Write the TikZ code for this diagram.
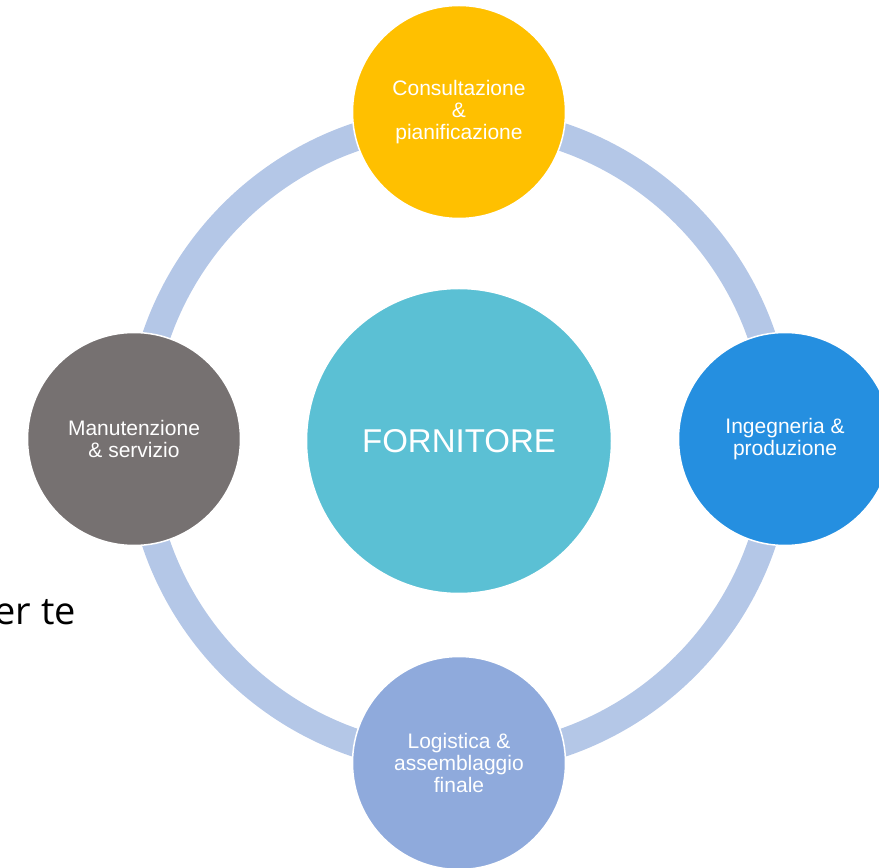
\documentclass[tikz,border=0pt]{standalone}
\usepackage{fontspec}
\setmainfont{Liberation Sans}
\newfontfamily\bodyfont{Open Sans}
\definecolor{ringc}{HTML}{B4C7E7}
\definecolor{cyellow}{HTML}{FFC000}
\definecolor{cblue}{HTML}{258FE0}
\definecolor{clblue}{HTML}{8FAADC}
\definecolor{cgray}{HTML}{767171}
\definecolor{ccyan}{HTML}{5BC0D4}
\tikzset{
  phase/.style={circle, draw=white, line width=1.5pt, minimum size=213pt, inner sep=0pt,
    text=white, align=center, font=\fontsize{21}{22}\selectfont},
  core/.style={circle, draw=white, line width=1.5pt, minimum size=305pt, inner sep=0pt,
    fill=ccyan, text=white, font=\fontsize{33}{36}\selectfont},
  ringline/.style={draw=ringc, line width=28pt}
}
\begin{document}
\begin{tikzpicture}[x=1pt,y=1pt]
\useasboundingbox (0,0) rectangle (879,868);
\coordinate (mid) at (459,428);
\draw[ringline] (mid) circle[radius=320];
\node[core] (fornitore) at (459,427) {FORNITORE};
\node[phase, fill=cyellow] (consult) at (459,756) {Consultazione\\\&\\pianificazione};
\node[phase, fill=cblue] (ingegn) at (785,429) {Ingegneria \&\\produzione};
\node[phase, fill=clblue] (logist) at (459,105) {Logistica \&\\assemblaggio\\finale};
\node[phase, fill=cgray] (manut) at (134,429) {Manutenzione\\\& servizio};
\node[anchor=base east, inner sep=0pt, font=\bodyfont\fontsize{38}{44}\selectfont] (frag) at (76,243) {er te};
\end{tikzpicture}
\end{document}
